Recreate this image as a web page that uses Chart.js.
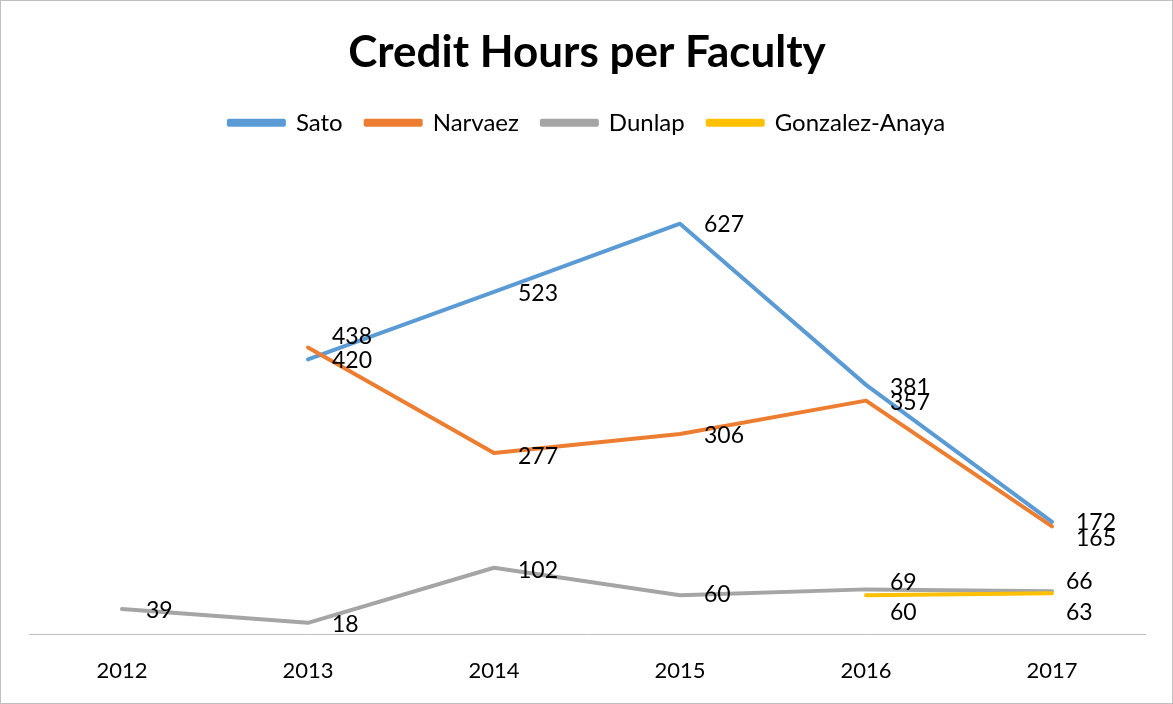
<!DOCTYPE html>
<html><head><meta charset="utf-8">
<script src="https://cdn.jsdelivr.net/npm/chart.js@4.4.1/dist/chart.umd.min.js"></script>
<style>
html,body{margin:0;padding:0;background:#fff;}
#wrap{width:1173px;height:704px;box-sizing:border-box;border:1px solid #bfbfbf;position:relative;}
canvas{display:block;}
</style></head>
<body><div id="wrap"><canvas id="c" width="1171" height="702"></canvas></div>
<script>
const categories = ['2012','2013','2014','2015','2016','2017'];
const sato = [null, 420, 523, 627, 381, 172];
const narvaez = [null, 438, 277, 306, 357, 165];
const dunlap = [39, 18, 102, 60, 69, 66];
const gonzalez = [null, null, null, null, 60, 63];

// label offsets (style only)
const labelDy = [[0,1,2,1,3,1],[0,-11,4,2,2,12],[2,2,3,-1,-7,-10],[0,0,0,0,17,19]];
const labelDx = [[24,24,24,24,24,24],[24,24,24,24,24,24],[24,24,24,24,24,14],[24,24,24,24,24,14]];

const FONT = 'Lato, "Open Sans", sans-serif';

const labelPlugin = {
  id: 'vlabels',
  afterDatasetsDraw(chart) {
    const ctx = chart.ctx;
    ctx.save();
    ctx.font = '23px ' + FONT;
    ctx.fillStyle = '#000';
    ctx.textAlign = 'left';
    ctx.textBaseline = 'middle';
    chart.data.datasets.forEach((ds, di) => {
      const meta = chart.getDatasetMeta(di);
      meta.data.forEach((pt, i) => {
        const v = ds.data[i];
        if (v === null || v === undefined) return;
        ctx.fillText(String(v), pt.x + labelDx[di][i], pt.y + labelDy[di][i]);
      });
    });
    ctx.restore();
  }
};

const legendSpace = {
  id: 'legendSpace',
  beforeInit(chart) {
    const lg = chart.legend;
    if (!lg) return;
    const orig = lg.fit;
    lg.fit = function () { orig.call(this); this.height += 31; };
  }
};

function ds(label, data, color, order) {
  return {label, data, borderColor: color, backgroundColor: color, borderWidth: 4,
    pointRadius: 0, tension: 0, spanGaps: false, order, borderCapStyle: 'round', borderJoinStyle: 'round'};
}

new Chart(document.getElementById('c'), {
  type: 'line',
  data: {
    labels: categories,
    datasets: [
      ds('Sato', sato, '#5B9BD5', 4),
      ds('Narvaez', narvaez, '#ED7D31', 3),
      ds('Dunlap', dunlap, '#A5A5A5', 2),
      ds('Gonzalez-Anaya', gonzalez, '#FFC000', 1)
    ]
  },
  options: {
    responsive: false,
    animation: false,
    layout: {padding: {left: 28, right: 27, top: 0, bottom: 4}},
    plugins: {
      title: {display: true, text: 'Credit Hours per Faculty', color: '#000',
        font: {family: FONT, size: 44, weight: 'bold'}, padding: {top: 25, bottom: 9}},
      legend: {display: true, position: 'top',
        labels: {color: '#000', font: {family: FONT, size: 24}, boxWidth: 55, boxHeight: 4,
          padding: 23, sort: (a, b) => a.datasetIndex - b.datasetIndex}},
      tooltip: {enabled: false}
    },
    scales: {
      x: {offset: true, grid: {display: false}, border: {display: true, color: '#bfbfbf', width: 1},
        ticks: {color: '#000', font: {family: FONT, size: 22}, padding: 15}},
      y: {display: false, min: 0, max: 700}
    }
  },
  plugins: [legendSpace, labelPlugin]
});
</script></body></html>
